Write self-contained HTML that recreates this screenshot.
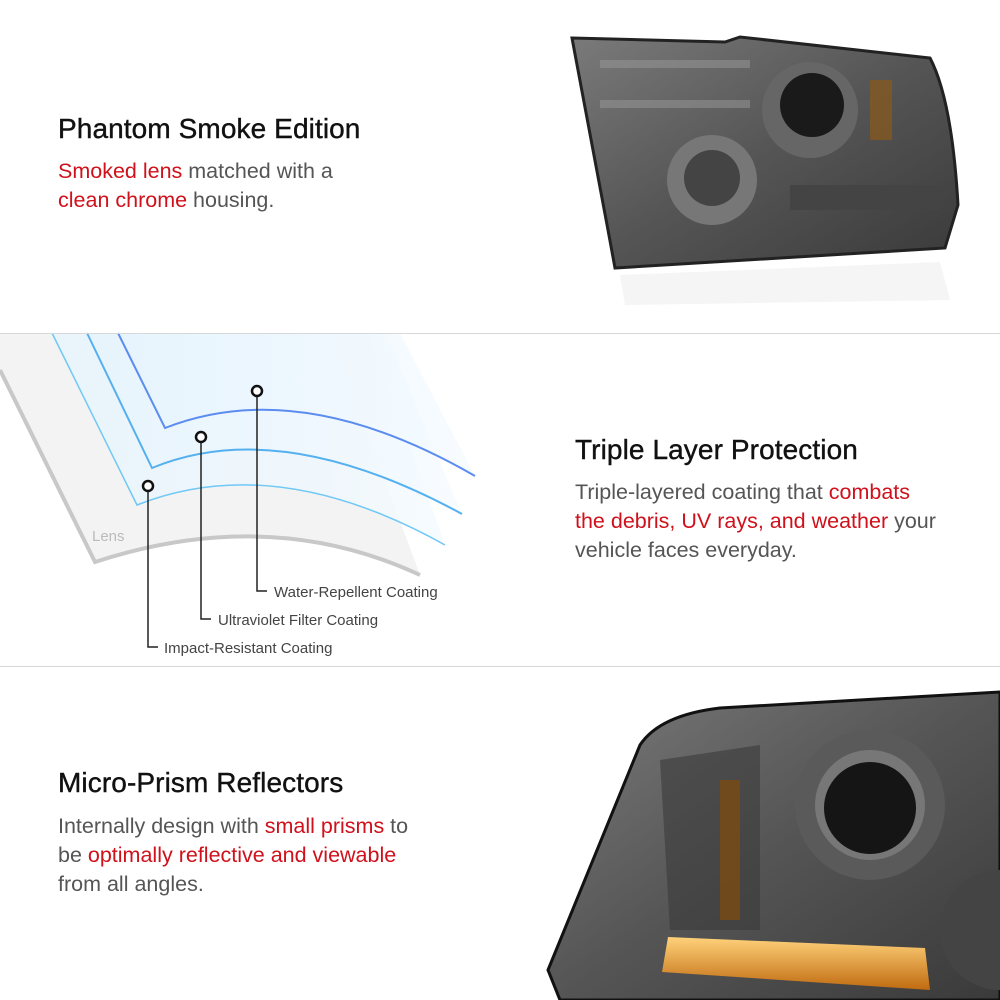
<!DOCTYPE html>
<html><head><meta charset="utf-8"><style>
body{margin:0;width:1000px;height:1000px;background:#fff;position:relative;overflow:hidden;font-family:"Liberation Sans",sans-serif}
.t{position:absolute;font-size:28px;color:#111;letter-spacing:0.1px;-webkit-text-stroke:0.4px #111}
.b{position:absolute;font-size:21.5px;color:#555;line-height:29px}
.r{color:#d0101a}
.hr{position:absolute;left:0;width:1000px;height:1px;background:#d8d8d8}
</style></head><body>
<svg style="position:absolute;left:0;top:0" width="1000" height="1000">
<defs>
<linearGradient id="hg" x1="0" y1="0" x2="1" y2="1"><stop offset="0" stop-color="#7a7a7a"/><stop offset="0.5" stop-color="#555"/><stop offset="1" stop-color="#3a3a3a"/></linearGradient>
<linearGradient id="bl" x1="0" y1="0" x2="1" y2="0"><stop offset="0" stop-color="#e6f4fd"/><stop offset="1" stop-color="#f4faff"/></linearGradient>
<linearGradient id="am" x1="0" y1="0" x2="0" y2="1"><stop offset="0" stop-color="#ffd27a"/><stop offset="1" stop-color="#c06a10"/></linearGradient>
</defs>
<path d="M572,38 L725,42 L740,37 L930,58 Q952,100 958,205 L945,248 L615,268 L608,230 Z" fill="url(#hg)" stroke="#222" stroke-width="3"/>
<rect x="600" y="60" width="150" height="8" fill="#999" opacity=".5"/>
<rect x="600" y="100" width="150" height="8" fill="#999" opacity=".5"/>
<circle cx="810" cy="110" r="48" fill="#666"/><circle cx="812" cy="105" r="32" fill="#1a1a1a"/>
<circle cx="712" cy="180" r="45" fill="#777"/><circle cx="712" cy="178" r="28" fill="#444"/>
<rect x="790" y="185" width="150" height="25" fill="#444"/>
<rect x="870" y="80" width="22" height="60" fill="#8a5a1a" opacity=".7"/>
<path d="M620,275 L940,262 L950,300 L625,305 Z" fill="#f5f5f5"/>
<path d="M0,370 L95,562 Q270,505 420,575 L330,333 L0,333 Z" fill="#f3f3f3"/>
<path d="M0,370 L95,562 Q270,505 420,575" fill="none" stroke="#c8c8c8" stroke-width="4"/>
<path d="M52,333 L137,505 Q275,450 445,545 L370,333 Z" fill="url(#bl)" opacity=".8"/>
<path d="M52,333 L137,505 Q275,450 445,545" fill="none" stroke="#6fc8f5" stroke-width="1.5"/>
<path d="M87,333 L152,468 Q280,415 462,514 L385,333 Z" fill="url(#bl)" opacity=".7"/>
<path d="M87,333 L152,468 Q280,415 462,514" fill="none" stroke="#55b0f0" stroke-width="2"/>
<path d="M118,333 L165,428 Q300,375 475,476 L400,333 Z" fill="url(#bl)" opacity=".7"/>
<path d="M118,333 L165,428 Q300,375 475,476" fill="none" stroke="#5b8cf0" stroke-width="2"/>
<text x="92" y="541" font-size="15" fill="#bbb" font-family="Liberation Sans">Lens</text>
<g stroke="#222" stroke-width="1.5" fill="none">
<path d="M148,491 V647 H158"/><path d="M201,442 V619 H211"/><path d="M257,396 V591 H267"/>
</g>
<g stroke="#111" stroke-width="2.5" fill="#fff">
<circle cx="148" cy="486" r="5"/><circle cx="201" cy="437" r="5"/><circle cx="257" cy="391" r="5"/>
</g>
<g font-size="15" fill="#444" font-family="Liberation Sans">
<text x="274" y="597">Water-Repellent Coating</text>
<text x="218" y="625">Ultraviolet Filter Coating</text>
<text x="164" y="653">Impact-Resistant Coating</text>
</g>
<path d="M548,970 L640,745 Q660,715 720,708 L1000,692 L1000,1000 L560,1000 Z" fill="url(#hg)" stroke="#111" stroke-width="3"/>
<path d="M660,760 L760,745 L760,930 L670,930 Z" fill="#3a3a3a" opacity=".6"/>
<rect x="720" y="780" width="20" height="140" fill="#7a4a12" opacity=".8"/>
<circle cx="870" cy="805" r="75" fill="#5a5a5a"/><circle cx="870" cy="805" r="55" fill="#777"/><circle cx="870" cy="808" r="46" fill="#151515"/>
<circle cx="1000" cy="930" r="60" fill="#444"/>
<path d="M668,937 L925,948 L930,990 L662,972 Z" fill="url(#am)"/>
</svg>
<div class="hr" style="top:333px"></div>
<div class="hr" style="top:666px"></div>
<div class="t" style="left:58px;top:113px">Phantom Smoke Edition</div>
<div class="b" style="left:58px;top:157px"><span class="r">Smoked lens</span> matched with a<br><span class="r">clean chrome</span> housing.</div>
<div class="t" style="left:575px;top:434px">Triple Layer Protection</div>
<div class="b" style="left:575px;top:478px">Triple-layered coating that <span class="r">combats</span><br><span class="r">the debris, UV rays, and weather</span> your<br>vehicle faces everyday.</div>
<div class="t" style="left:58px;top:767px">Micro-Prism Reflectors</div>
<div class="b" style="left:58px;top:812px">Internally design with <span class="r">small prisms</span> to<br>be <span class="r">optimally reflective and viewable</span><br>from all angles.</div>
</body></html>
